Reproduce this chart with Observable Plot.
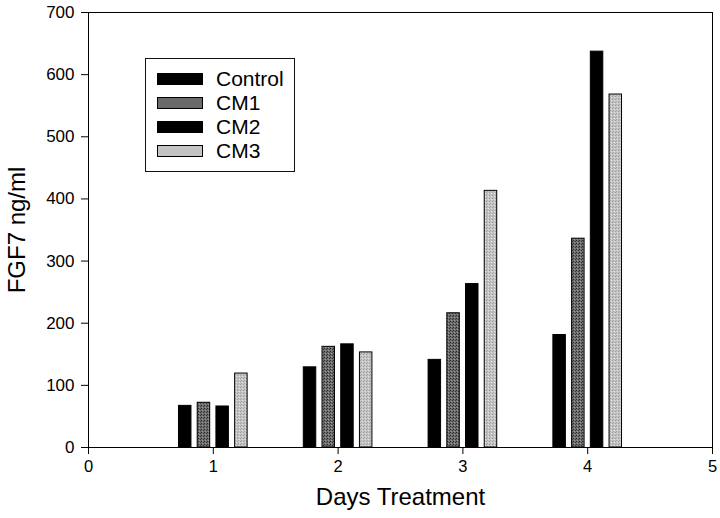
<!DOCTYPE html>
<html>
<head>
<meta charset="utf-8">
<script src="https://cdn.jsdelivr.net/npm/d3@7"></script>
<script src="https://cdn.jsdelivr.net/npm/@observablehq/plot@0.6"></script>
<style>
  html, body { margin: 0; padding: 0; background: #fff; }
  #wrap { position: relative; width: 720px; height: 518px; font-family: "Liberation Sans", Arial, sans-serif; }
  #legend { position: absolute; left: 145px; top: 58px; width: 150px; height: 114px; border: 1px solid #111; box-sizing: border-box; background: #fff; }
  .row { position: absolute; left: 11px; height: 24px; display: flex; align-items: center; }
  .sw { width: 46px; height: 12px; border: 1px solid #000; box-sizing: border-box; margin-right: 13px; }
  .lab { font-size: 21px; color: #000; line-height: 24px; }
</style>
</head>
<body>
<svg width="0" height="0" style="position:absolute">
  <defs>
    <pattern id="pCM1" width="3" height="3" patternUnits="userSpaceOnUse">
      <rect width="3" height="3" fill="#6e6e6e"/>
      <rect x="0" y="0" width="1" height="1" fill="#2a2a2a"/>
      <rect x="2" y="1" width="1" height="1" fill="#3a3a3a"/>
      <rect x="1" y="2" width="1" height="1" fill="#9a9a9a"/>
    </pattern>
    <pattern id="pCM3" width="3" height="3" patternUnits="userSpaceOnUse">
      <rect width="3" height="3" fill="#c4c4c4"/>
      <rect x="0" y="0" width="1" height="1" fill="#9c9c9c"/>
      <rect x="2" y="1" width="1" height="1" fill="#e2e2e2"/>
      <rect x="1" y="2" width="1" height="1" fill="#a8a8a8"/>
    </pattern>
  </defs>
</svg>
<div id="wrap"></div>
<script>
// ---- data ----
const days = [1, 2, 3, 4];
const seriesNames = ["Control", "CM1", "CM2", "CM3"];
const controlValues = [67, 129, 141, 181];
const cm1Values = [72, 162, 216, 336];
const cm2Values = [66, 166, 263, 637];
const cm3Values = [119, 153, 413, 568];
const xTicks = [0, 1, 2, 3, 4, 5];
const yTicks = [0, 100, 200, 300, 400, 500, 600, 700];

// ---- styles ----
const seriesFill = ["#000000", "url(#pCM1)", "#000000", "url(#pCM3)"];
const seriesSwatch = ["#000000", "#6a6a6a", "#000000", "#c4c4c4"];
const groupSpacing = 0.15, barWidth = 0.1;

const valueSets = [controlValues, cm1Values, cm2Values, cm3Values];
const rows = [];
seriesNames.forEach((s, si) => {
  days.forEach((d, di) => {
    const center = d + (si - 1.5) * groupSpacing;
    rows.push({series: s, si, day: d, value: valueSets[si][di], x1: center - barWidth / 2, x2: center + barWidth / 2});
  });
});

const chart = Plot.plot({
  width: 720,
  height: 518,
  marginLeft: 88,
  marginRight: 8,
  marginTop: 12,
  marginBottom: 71,
  style: {fontFamily: "'Liberation Sans', Arial, sans-serif", background: "#fff", color: "#000"},
  x: {domain: [0, 5], label: null},
  y: {domain: [0, 700], label: null},
  marks: [
    Plot.rectY(rows, {x1: "x1", x2: "x2", y1: 0, y2: "value", fill: d => seriesFill[d.si], stroke: "#000", strokeWidth: 1}),
    Plot.frame({stroke: "#000", strokeWidth: 1}),
    Plot.axisX({ticks: xTicks, tickSize: 7, tickPadding: 6, fontSize: 16.5, tickFormat: d3.format("d"), label: null}),
    Plot.axisY({ticks: yTicks, tickSize: 7, tickPadding: 7, fontSize: 17, tickFormat: d3.format("d"), label: null}),
    Plot.text(["Days Treatment"], {frameAnchor: "bottom", textAnchor: "middle", dy: 57, fontSize: 24, fill: "#000"}),
    Plot.text(["FGF7 ng/ml"], {frameAnchor: "left", textAnchor: "middle", dx: -71, rotate: -90, fontSize: 24, fill: "#000"})
  ]
});

const wrap = document.getElementById("wrap");
wrap.appendChild(chart);

const legend = document.createElement("div");
legend.id = "legend";
seriesNames.forEach((s, i) => {
  const row = document.createElement("div");
  row.className = "row";
  row.style.top = (8 + i * 24) + "px";
  const sw = document.createElement("div");
  sw.className = "sw";
  sw.style.background = seriesSwatch[i];
  const lab = document.createElement("span");
  lab.className = "lab";
  lab.textContent = s;
  row.appendChild(sw);
  row.appendChild(lab);
  legend.appendChild(row);
});
wrap.appendChild(legend);
</script>
</body>
</html>
